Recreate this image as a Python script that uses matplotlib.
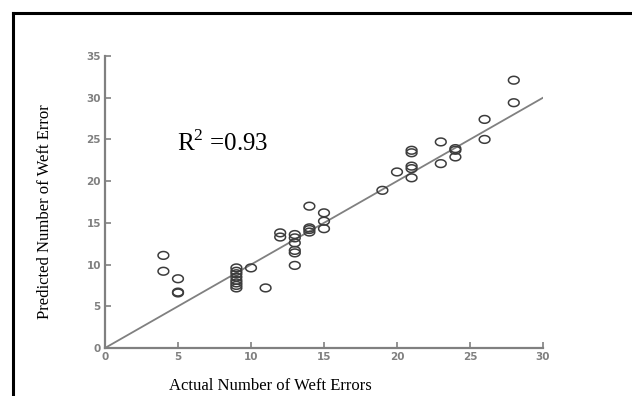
import numpy as np
from matplotlib import pyplot as plt
from matplotlib.lines import Line2D
from matplotlib.path import Path

actual = [4, 4, 5, 5, 5,
          9, 9, 9, 9, 9, 9, 9, 9,
          10, 11, 12, 12,
          13, 13, 13, 13, 13, 13,
          14, 14, 14, 14,
          15, 15, 15, 19, 20,
          21, 21, 21, 21, 21,
          23, 23, 24, 24, 24,
          26, 26, 28, 28]
predicted = [11.1, 9.2, 8.3, 6.7, 6.6,
             9.6, 9.2, 8.9, 8.5, 8.1, 7.8, 7.5, 7.2,
             9.6, 7.2, 13.8, 13.3,
             13.6, 13.2, 12.6, 11.7, 11.4, 9.9,
             17.0, 14.4, 14.2, 13.9,
             16.2, 15.2, 14.3, 18.9, 21.1,
             23.7, 23.4, 21.8, 21.5, 20.4,
             24.7, 22.1, 23.9, 23.7, 22.9,
             27.4, 25.0, 32.1, 29.4]
fit_x = [0, 30]
fit_y = [0, 30]
x_ticks = [0, 5, 10, 15, 20, 25, 30]
y_ticks = [0, 5, 10, 15, 20, 25, 30, 35]

W, H = 632, 396
fig = plt.figure(figsize=(W / 100, H / 100), dpi=100)
ax = fig.add_axes([105 / W, 1 - 348 / H, 438 / W, 292 / H])

# slightly flattened open circles, as in the scanned figure
t = np.linspace(0, 2 * np.pi, 40)
ellipse = Path(np.column_stack([np.cos(t), 0.72 * np.sin(t)]))

gray = "#808080"
ax.plot(fit_x, fit_y, color=gray, lw=1.3)
ax.scatter(actual, predicted, marker=ellipse, s=60, facecolors="none",
           edgecolors="#3c3c3c", linewidths=1.1, zorder=3)

ax.set_xlim(0, 30)
ax.set_ylim(0, 35)
ax.set_xticks(x_ticks)
ax.set_yticks(y_ticks)
for side in ("top", "right"):
    ax.spines[side].set_visible(False)
for side in ("left", "bottom"):
    ax.spines[side].set_color(gray)
    ax.spines[side].set_linewidth(1.6)
ax.tick_params(direction="in", length=4, width=1.2, color=gray,
               labelcolor=gray, labelsize=7.5, pad=3)
for lab in ax.get_xticklabels() + ax.get_yticklabels():
    lab.set_fontweight("bold")

plt.rcParams["mathtext.fontset"] = "custom"
plt.rcParams["mathtext.rm"] = "Liberation Serif"
ax.text(4.95, 24.6, r"$\mathrm{R}^{2}$ =0.93", fontsize=18,
        family="Liberation Serif", ha="left", va="center")

fig.text(270 / W, 1 - 386 / H, "Actual Number of Weft Errors",
         fontsize=12, family="Liberation Serif", ha="center", va="center")
fig.text(45 / W, 1 - 212 / H, "Predicted Number of Weft Error",
         fontsize=12, family="Liberation Serif", rotation=90,
         ha="center", va="center")

# black frame along top and left edges
fx, fy = 12.5 / W, 1 - 12.5 / H
fig.add_artist(Line2D([fx, 1], [fy, fy], color="black", lw=2.2,
                      transform=fig.transFigure))
fig.add_artist(Line2D([fx, fx], [0, fy], color="black", lw=2.2,
                      transform=fig.transFigure))

fig.savefig("out.png", dpi=100)
